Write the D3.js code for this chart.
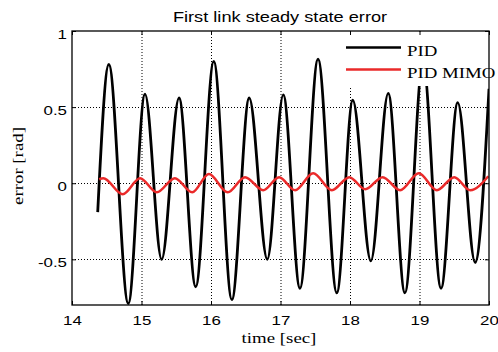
<!DOCTYPE html>
<html>
<head>
<meta charset="utf-8">
<script src="https://cdn.jsdelivr.net/npm/d3@7"></script>
<style>
  html, body { margin: 0; padding: 0; background: #fff; }
  svg { display: block; }
</style>
</head>
<body>
<svg id="chart" width="498" height="352"></svg>
<script>
// PID response: times (s) and link error (rad) at the turning points of the oscillation
const pidTime  = [14.37, 14.53, 14.81, 15.05, 15.29, 15.54, 15.78, 16.04, 16.30, 16.55, 16.81, 17.04,
                  17.28, 17.54, 17.81, 18.04, 18.30, 18.55, 18.79, 19.05, 19.31, 19.55, 19.80, 20.00];
const pidError = [-0.19, 0.78, -0.79, 0.585, -0.50, 0.56, -0.68, 0.80, -0.765, 0.56, -0.50, 0.58,
                  -0.69, 0.815, -0.72, 0.545, -0.51, 0.59, -0.72, 0.80, -0.69, 0.53, -0.52, 0.62];

// PID MIMO response
const mimoTime  = [14.39, 14.45, 14.73, 14.98, 15.22, 15.48, 15.73, 15.97, 16.24, 16.49, 16.75, 16.98,
                   17.21, 17.47, 17.74, 17.99, 18.22, 18.47, 18.72, 18.99, 19.25, 19.50, 19.73, 19.99];
const mimoError = [0.026, 0.033, -0.072, 0.033, -0.06, 0.033, -0.06, 0.06, -0.06, 0.04, -0.046, 0.04,
                   -0.046, 0.066, -0.046, 0.04, -0.04, 0.04, -0.046, 0.066, -0.046, 0.04, -0.046, 0.046];

const xTicks = [14, 15, 16, 17, 18, 19, 20];
const yTicks = [-0.5, 0, 0.5, 1];
const seriesNames = ["PID", "PID MIMO"];
const seriesColors = ["#000000", "#ea2a2a"];

const svg = d3.select("#chart");
const plotLeft = 72, plotRight = 489, plotTop = 31, plotBottom = 305;
const stretch = 1.3;
const sans = "'Liberation Sans', Arial, sans-serif";
const serif = "'Liberation Serif', 'Times New Roman', serif";

const x = d3.scaleLinear().domain([14, 20]).range([plotLeft, plotRight]);
const y = d3.scaleLinear().domain([-0.8, 1]).range([plotBottom, plotTop]);

// dotted grid
const grid = svg.append("g").attr("stroke", "#000").attr("stroke-width", 1)
  .attr("stroke-dasharray", "1,2");
grid.selectAll("line.gx").data(xTicks.slice(1, -1)).join("line")
  .attr("x1", d => x(d) + 0.5).attr("x2", d => x(d) + 0.5)
  .attr("y1", plotTop).attr("y2", plotBottom);
grid.selectAll("line.gy").data(yTicks.filter(v => v < 1)).join("line")
  .attr("x1", plotLeft).attr("x2", plotRight)
  .attr("y1", d => Math.round(y(d)) + 0.5).attr("y2", d => Math.round(y(d)) + 0.5);

// curves
svg.append("clipPath").attr("id", "plotClip").append("rect")
  .attr("x", plotLeft).attr("y", plotTop).attr("width", plotRight - plotLeft).attr("height", plotBottom - plotTop);

const line = d3.line().x(d => x(d[0])).y(d => y(d[1])).curve(d3.curveMonotoneX);
const pidPts = pidTime.map((t, i) => [t, pidError[i]]);
const mimoPts = mimoTime.map((t, i) => [t, mimoError[i]]);

const curves = svg.append("g").attr("clip-path", "url(#plotClip)");
curves.append("path").datum(pidPts).attr("d", line)
  .attr("fill", "none").attr("stroke", seriesColors[0]).attr("stroke-width", 2.8)
  .attr("stroke-linejoin", "round");
curves.append("path").datum(mimoPts).attr("d", line)
  .attr("fill", "none").attr("stroke", seriesColors[1]).attr("stroke-width", 2.5)
  .attr("stroke-linejoin", "round");

// legend (opaque, no border)
const legend = svg.append("g");
legend.append("rect").attr("x", 341).attr("y", 32).attr("width", 146).attr("height", 54)
  .attr("fill", "#fff");
seriesNames.forEach((name, i) => {
  const ly = 47.5 + i * 22;
  legend.append("line").attr("x1", 346).attr("x2", 401).attr("y1", ly).attr("y2", ly)
    .attr("stroke", seriesColors[i]).attr("stroke-width", 2.5);
  legend.append("text").attr("transform", `translate(407,${ly + 8}) scale(${stretch},1)`)
    .attr("font-family", serif).attr("font-size", 14.5).attr("fill", "#000").text(name);
});

// axes with inward ticks on all four sides
function styleAxis(g) {
  g.select(".domain").remove();
  g.selectAll(".tick line").attr("stroke", "#000").attr("stroke-width", 1);
}
svg.append("g").attr("transform", `translate(0,${plotBottom})`)
  .call(d3.axisBottom(x).tickValues(xTicks).tickFormat(d => String(d)).tickSizeInner(-4).tickSizeOuter(0))
  .call(styleAxis)
  .call(g => g.selectAll(".tick text")
    .attr("y", null).attr("dy", null)
    .attr("transform", `translate(0,20) scale(${stretch},1)`)
    .attr("font-family", sans).attr("font-size", 13).attr("fill", "#000"));
svg.append("g").attr("transform", `translate(0,${plotTop})`)
  .call(d3.axisTop(x).tickValues(xTicks).tickFormat("").tickSizeInner(-4).tickSizeOuter(0))
  .call(styleAxis);
svg.append("g").attr("transform", `translate(${plotLeft},0)`)
  .call(d3.axisLeft(y).tickValues(yTicks).tickFormat(d => String(d)).tickSizeInner(-4).tickSizeOuter(0))
  .call(styleAxis)
  .call(g => g.selectAll(".tick text")
    .attr("x", null).attr("dy", null)
    .attr("transform", `translate(-5,7) scale(${stretch},1)`)
    .attr("text-anchor", "end")
    .attr("font-family", sans).attr("font-size", 13).attr("fill", "#000"));
svg.append("g").attr("transform", `translate(${plotRight},0)`)
  .call(d3.axisRight(y).tickValues(yTicks).tickFormat("").tickSizeInner(-4).tickSizeOuter(0))
  .call(styleAxis);

// plot frame
svg.append("rect").attr("x", plotLeft).attr("y", plotTop)
  .attr("width", plotRight - plotLeft).attr("height", plotBottom - plotTop)
  .attr("fill", "none").attr("stroke", "#000").attr("stroke-width", 1.3);

// title and axis labels
svg.append("text").attr("transform", `translate(280,22) scale(${stretch},1)`)
  .attr("text-anchor", "middle").attr("font-family", sans).attr("font-size", 14).attr("fill", "#000")
  .text("First link steady state error");
svg.append("text").attr("transform", `translate(279,343) scale(${stretch},1)`)
  .attr("text-anchor", "middle").attr("font-family", serif).attr("font-size", 14.5).attr("fill", "#000")
  .text("time [sec]");
svg.append("text").attr("transform", `translate(23,166) rotate(-90) scale(${stretch},1)`)
  .attr("text-anchor", "middle").attr("font-family", serif).attr("font-size", 14.5).attr("fill", "#000")
  .text("error [rad]");
</script>
</body>
</html>
